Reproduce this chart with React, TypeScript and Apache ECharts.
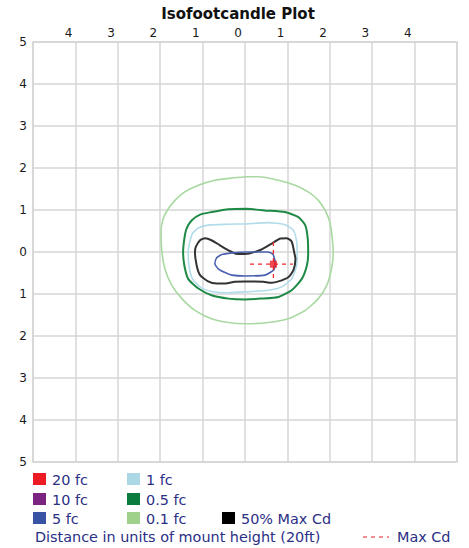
import React, { useEffect, useRef } from "react";
import * as echarts from "echarts";

// Contour outlines, in units of mount height (x: across, y: along)
const contour01fc: number[][] = [
  [0.05, 1.79], [0.31, 1.79], [0.79, 1.71], [1.18, 1.59], [1.49, 1.43], [1.73, 1.23], [1.89, 0.99],
  [2.0, 0.71], [2.06, 0.32], [2.08, -0.05], [2.04, -0.4], [1.93, -0.79], [1.73, -1.11], [1.42, -1.39],
  [1.02, -1.59], [0.55, -1.68], [0.0, -1.71], [-0.39, -1.68], [-0.79, -1.59], [-1.18, -1.39],
  [-1.49, -1.11], [-1.73, -0.79], [-1.89, -0.4], [-1.96, 0.0], [-1.98, 0.48], [-1.93, 0.79],
  [-1.81, 1.03], [-1.65, 1.23], [-1.42, 1.43], [-1.1, 1.59], [-0.71, 1.71], [-0.31, 1.76], [0.05, 1.79],
];
const contour05fc: number[][] = [
  [0.05, 1.03], [0.47, 0.99], [0.94, 0.95], [1.26, 0.83], [1.42, 0.64], [1.48, 0.32], [1.49, -0.05],
  [1.46, -0.32], [1.34, -0.64], [1.1, -0.91], [0.79, -1.07], [0.39, -1.11], [0.0, -1.13], [-0.39, -1.11],
  [-0.79, -1.03], [-1.1, -0.87], [-1.34, -0.64], [-1.43, -0.32], [-1.46, 0.0], [-1.43, 0.32],
  [-1.38, 0.55], [-1.26, 0.75], [-1.06, 0.89], [-0.79, 0.95], [-0.39, 1.02], [0.05, 1.03],
];
const contour1fc: number[][] = [
  [0.05, 0.67], [0.55, 0.7], [0.94, 0.65], [1.14, 0.52], [1.22, 0.24], [1.23, -0.05], [1.22, -0.32],
  [1.1, -0.64], [0.87, -0.83], [0.55, -0.91], [0.0, -0.95], [-0.39, -0.97], [-0.79, -0.94],
  [-1.02, -0.86], [-1.22, -0.67], [-1.31, -0.4], [-1.34, 0.0], [-1.31, 0.2], [-1.24, 0.44],
  [-1.1, 0.57], [-0.87, 0.64], [-0.39, 0.66], [0.05, 0.67],
];
const contour50MaxCd: number[][] = [
  [-0.2, -0.05], [0.0, -0.05], [0.39, 0.06], [0.63, 0.2], [0.83, 0.32], [0.98, 0.33], [1.1, 0.25],
  [1.17, -0.05], [1.19, -0.16], [1.14, -0.44], [1.02, -0.6], [0.79, -0.7], [0.63, -0.73], [0.43, -0.71],
  [0.24, -0.7], [0.0, -0.7], [-0.24, -0.71], [-0.47, -0.75], [-0.67, -0.75], [-0.87, -0.7],
  [-1.06, -0.55], [-1.14, -0.32], [-1.18, 0.0], [-1.16, 0.12], [-1.06, 0.28], [-0.94, 0.33],
  [-0.79, 0.28], [-0.59, 0.16], [-0.39, 0.04], [-0.2, -0.05],
];
const contour5fc: number[][] = [
  [-0.55, -0.06], [-0.31, -0.02], [0.05, 0.0], [0.54, 0.0], [0.64, -0.04], [0.68, -0.1], [0.71, -0.26],
  [0.68, -0.42], [0.47, -0.55], [0.0, -0.57], [-0.31, -0.55], [-0.47, -0.49], [-0.63, -0.4],
  [-0.71, -0.28], [-0.67, -0.14], [-0.55, -0.06],
];
const contour20fc: number[][] = [[0.67, -0.29]];
const maxCdVertical: number[][] = [[0.67, 0.24], [0.67, -0.71]];
const maxCdHorizontal: number[][] = [[0.12, -0.29], [1.13, -0.29]];

const axisMin = -5;
const axisMax = 5;

const legendLabels: string[][] = [
  ["20 fc", "1 fc"],
  ["10 fc", "0.5 fc"],
  ["5 fc", "0.1 fc", "50% Max Cd"],
];
const legendColors: string[][] = [
  ["#ed1c24", "#acd8e5"],
  ["#7b2381", "#0b7b3e"],
  ["#3953a4", "#9fd18b"],
];
const legendColor50 = "#000000";
const footerText = "Distance in units of mount height (20ft)";
const maxCdLabel = "Max Cd";
const titleText = "Isofootcandle Plot";

const FONT = '"DejaVu Sans", Verdana, sans-serif';
const NAVY = "#2b2f86";

export default function App() {
  const ref = useRef<HTMLDivElement>(null);
  useEffect(() => {
    if (!ref.current) return;
    const chart = echarts.init(ref.current, undefined, { renderer: "svg" });

    const lineSeries = (name: string, data: number[][], color: string, width: number, z: number) => ({
      name,
      type: "line",
      data,
      showSymbol: false,
      smooth: 0.2,
      z,
      lineStyle: { color, width },
      itemStyle: { color },
      silent: true,
    });

    const colX = [33, 127, 222];
    const rowY = [473, 493, 512];
    const graphics: any[] = [
      {
        type: "text",
        style: {
          text: titleText,
          x: 238,
          y: 14,
          align: "center",
          verticalAlign: "middle",
          font: `bold 15px ${FONT}`,
          fill: "#111111",
        },
      },
    ];
    legendLabels.forEach((row, r) => {
      row.forEach((label, c) => {
        const color = c < 2 ? legendColors[r][c] : legendColor50;
        graphics.push({
          type: "rect",
          shape: { x: colX[c], y: rowY[r], width: 13, height: 12 },
          style: { fill: color },
        });
        graphics.push({
          type: "text",
          style: {
            text: label,
            x: colX[c] + 19,
            y: rowY[r] + 6.5,
            verticalAlign: "middle",
            font: `14.4px ${FONT}`,
            fill: NAVY,
          },
        });
      });
    });
    graphics.push({
      type: "text",
      style: {
        text: footerText,
        x: 35,
        y: 537,
        verticalAlign: "middle",
        font: `14.4px ${FONT}`,
        fill: NAVY,
      },
    });
    graphics.push({
      type: "line",
      shape: { x1: 363, y1: 537, x2: 389, y2: 537 },
      style: { stroke: "#ed1c24", lineWidth: 1.2, lineDash: [4, 4] },
    });
    graphics.push({
      type: "text",
      style: {
        text: maxCdLabel,
        x: 397,
        y: 537,
        verticalAlign: "middle",
        font: `14.4px ${FONT}`,
        fill: NAVY,
      },
    });

    const gridColor = "#d6d6d6";
    chart.setOption({
      animation: false,
      grid: {
        left: 33,
        right: 12,
        top: 42,
        bottom: 86,
        show: true,
        borderColor: gridColor,
        borderWidth: 1.5,
        backgroundColor: "#ffffff",
      },
      xAxis: {
        type: "value",
        position: "top",
        min: axisMin,
        max: axisMax,
        interval: 1,
        axisLine: { show: false },
        axisTick: { show: false },
        splitLine: { show: true, lineStyle: { color: gridColor, width: 1.5 } },
        axisLabel: {
          formatter: (v: number) => (Math.abs(v) === 5 ? "" : String(Math.abs(v))),
          align: "right",
          padding: [0, 3, 0, 0],
          margin: 3,
          fontSize: 12,
          fontFamily: FONT,
          color: "#1a1a1a",
        },
      },
      yAxis: {
        type: "value",
        min: axisMin,
        max: axisMax,
        interval: 1,
        axisLine: { show: false },
        axisTick: { show: false },
        splitLine: { show: true, lineStyle: { color: gridColor, width: 1.5 } },
        axisLabel: {
          formatter: (v: number) => String(Math.abs(v)),
          margin: 6,
          fontSize: 12,
          fontFamily: FONT,
          color: "#1a1a1a",
        },
      },
      series: [
        lineSeries("0.1 fc", contour01fc, "#a8d9a0", 1.6, 2),
        lineSeries("0.5 fc", contour05fc, "#1f8a45", 2, 3),
        lineSeries("1 fc", contour1fc, "#b2dcea", 1.6, 4),
        lineSeries("50% Max Cd", contour50MaxCd, "#333333", 2, 5),
        lineSeries("5 fc", contour5fc, "#4a5fb0", 1.6, 6),
        {
          name: "Max Cd V",
          type: "line",
          data: maxCdVertical,
          showSymbol: false,
          z: 7,
          lineStyle: { color: "#ee2a2a", width: 1.3, type: [4, 4] },
          silent: true,
        },
        {
          name: "Max Cd H",
          type: "line",
          data: maxCdHorizontal,
          showSymbol: false,
          z: 7,
          lineStyle: { color: "#ee2a2a", width: 1.3, type: [4, 4] },
          silent: true,
        },
        {
          name: "20 fc",
          type: "scatter",
          data: contour20fc,
          symbol: "rect",
          symbolSize: 7,
          z: 8,
          itemStyle: { color: "#ed1c24" },
          silent: true,
        },
      ],
      graphic: graphics,
    });
    return () => chart.dispose();
  }, []);
  return (
    <div
      ref={ref}
      style={{ position: "fixed", left: 0, top: 0, width: 469, height: 548, background: "#ffffff" }}
    />
  );
}
